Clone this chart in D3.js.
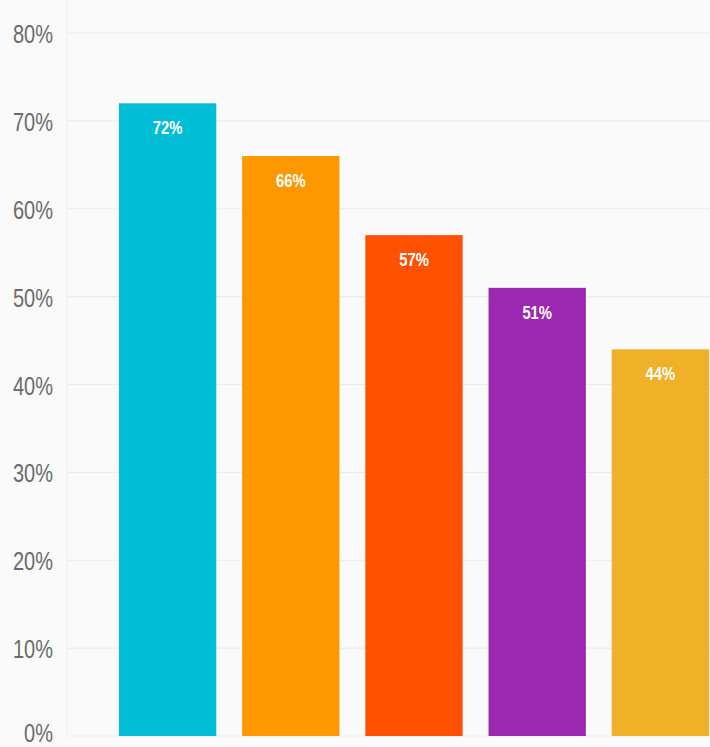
<!DOCTYPE html>
<html>
<head>
<meta charset="utf-8">
<script src="https://cdn.jsdelivr.net/npm/d3@7"></script>
<style>
  html, body { margin: 0; padding: 0; background: #fafafa; }
  svg { display: block; }
</style>
</head>
<body>
<div id="chart"></div>
<script>
let categories = ["A", "B", "C", "D", "E"];
let values = [72, 66, 57, 51, 44];
let colors = ["#00bcd4", "#ff9800", "#ff5100", "#9c27b0", "#f0b028"];
let ticks = [0, 10, 20, 30, 40, 50, 60, 70, 80];

let width = 710;
let height = 747;

let svg = d3
  .select("#chart")
  .append("svg")
  .attr("width", width)
  .attr("height", height);

let y = d3.scaleLinear().domain([0, 80]).range([736, 33]);
let x = d3
  .scaleBand()
  .domain(categories)
  .range([106, 722])
  .paddingInner(0.21)
  .paddingOuter(0.105);

// gridlines
svg
  .selectAll(".grid")
  .data(ticks)
  .join("line")
  .attr("class", "grid")
  .attr("x1", 67)
  .attr("x2", width)
  .attr("y1", d => y(d))
  .attr("y2", d => y(d))
  .attr("stroke", "#ebebeb")
  .attr("stroke-width", 1.2);

svg
  .append("line")
  .attr("x1", 67)
  .attr("x2", 67)
  .attr("y1", 0)
  .attr("y2", y(0))
  .attr("stroke", "#efefef");

// condensed look: squeeze text horizontally
svg
  .selectAll(".tick-label")
  .data(ticks)
  .join("text")
  .attr("class", "tick-label")
  .attr(
    "transform",
    d => `translate(53,${Math.min(y(d) + 10, height - 5)}) scale(0.8,1)`
  )
  .attr("text-anchor", "end")
  .attr("font-family", "'Liberation Sans', Arial, sans-serif")
  .attr("font-size", 25)
  .attr("fill", "#6b6b6b")
  .text(d => d + "%");

// bars
svg
  .selectAll(".bar")
  .data(values)
  .join("rect")
  .attr("class", "bar")
  .attr("x", (d, i) => x(categories[i]))
  .attr("y", d => y(d))
  .attr("width", x.bandwidth())
  .attr("height", d => y(0) - y(d))
  .attr("fill", (d, i) => colors[i]);

svg
  .selectAll(".bar-label")
  .data(values)
  .join("text")
  .attr("class", "bar-label")
  .attr(
    "transform",
    (d, i) =>
      `translate(${x(categories[i]) + x.bandwidth() / 2},${y(d) + 31}) scale(0.78,1)`
  )
  .attr("text-anchor", "middle")
  .attr("font-family", "'Liberation Sans', Arial, sans-serif")
  .attr("font-weight", "bold")
  .attr("font-size", 19)
  .attr("fill", "#ffffff")
  .text(d => d + "%");
</script>
</body>
</html>
